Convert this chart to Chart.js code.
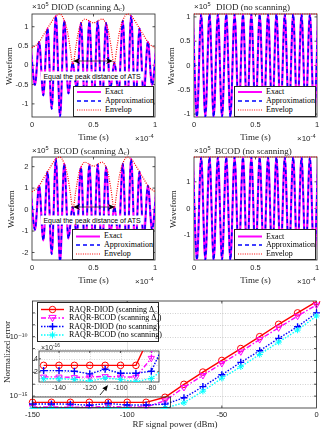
<!DOCTYPE html>
<html><head><meta charset="utf-8">
<script src="https://cdn.jsdelivr.net/npm/chart.js@4.4.1/dist/chart.umd.min.js"></script>
<style>
html,body{margin:0;padding:0;background:#fff}
body{position:relative;width:324px;height:431px;overflow:hidden;-webkit-font-smoothing:antialiased}
canvas{position:absolute;left:0;top:0}
.t{position:absolute;white-space:nowrap;color:#262626;line-height:1}
.t sup{font-size:70%;vertical-align:0.5em;line-height:0}
.t sub{font-size:70%;vertical-align:-0.3em;line-height:0}
.leg{position:absolute;background:#fff;border:0.8px solid #262626;box-sizing:border-box}
.leg .t{font-family:"Liberation Serif","DejaVu Serif",serif;font-size:8px;color:#000}
svg.ov{position:absolute;left:0;top:0;overflow:visible}
</style></head>
<body>
<canvas id="c1" width="324" height="431"></canvas>
<canvas id="c2" width="324" height="431"></canvas>
<canvas id="c3" width="324" height="431"></canvas>
<canvas id="c4" width="324" height="431"></canvas>
<canvas id="c5" width="324" height="431"></canvas>
<canvas id="c6" width="324" height="431"></canvas>
<script>
// ================= DATA =================
// time of each carrier extremum (units of 1e-4 s)
const tPeaks = [-0.010, 0.024, 0.058, 0.092, 0.126, 0.160, 0.194, 0.228, 0.262, 0.296, 0.330, 0.364, 0.398, 0.432, 0.466, 0.500, 0.534, 0.568, 0.602, 0.636, 0.670, 0.704, 0.738, 0.772, 0.806, 0.840, 0.874, 0.908, 0.942, 0.976, 1.010];
// envelope sample times
const tEnv = [0, 0.05, 0.10, 0.15, 0.19, 0.225, 0.26, 0.29, 0.31, 0.333, 0.355, 0.38, 0.405, 0.43, 0.475, 0.50, 0.525, 0.57, 0.595, 0.62, 0.645, 0.667, 0.69, 0.71, 0.74, 0.775, 0.81, 0.85, 0.90, 0.95, 1.0];
const tEnvFlat = [0, 1];

// DIOD (scanning) waveform, x1e5
const diodScanExact = [0.45, -0.51, 0.61, -0.78, 0.96, -1.13, 1.28, -1.33, 1.16, -0.73, 0.07, -0.62, 1.10, -1.20, 1.14, -1.10, 1.14, -1.20, 1.10, -0.62, 0.07, -0.73, 1.16, -1.33, 1.28, -1.13, 0.96, -0.78, 0.61, -0.51, 0.45];
const diodScanApprox = [0.45, -0.51, 0.61, -0.78, 0.96, -1.13, 1.28, -1.33, 1.16, -0.73, 0.07, -0.62, 1.10, -1.20, 1.14, -1.10, 1.14, -1.20, 1.10, -0.62, 0.07, -0.73, 1.16, -1.33, 1.28, -1.13, 0.96, -0.78, 0.61, -0.51, 0.45];
const diodScanEnv = [0.45, 0.57, 0.82, 1.08, 1.27, 1.33, 1.18, 0.85, 0.45, 0.02, 0.45, 0.90, 1.12, 1.20, 1.13, 1.10, 1.13, 1.20, 1.12, 0.90, 0.45, 0.02, 0.45, 0.85, 1.18, 1.33, 1.27, 1.08, 0.82, 0.57, 0.45];

// DIOD (no scanning)
const diodNoExact = [1.06, -1.06, 1.06, -1.06, 1.06, -1.06, 1.06, -1.06, 1.06, -1.06, 1.06, -1.06, 1.06, -1.06, 1.06, -1.06, 1.06, -1.06, 1.06, -1.06, 1.06, -1.06, 1.06, -1.06, 1.06, -1.06, 1.06, -1.06, 1.06, -1.06, 1.06];
const diodNoApprox = [1.06, -1.06, 1.06, -1.06, 1.06, -1.06, 1.06, -1.06, 1.06, -1.06, 1.06, -1.06, 1.06, -1.06, 1.06, -1.06, 1.06, -1.06, 1.06, -1.06, 1.06, -1.06, 1.06, -1.06, 1.06, -1.06, 1.06, -1.06, 1.06, -1.06, 1.06];
const diodNoEnv = [1.06, 1.06];

// BCOD (scanning)
const bcodScanExact = [0.83, -0.94, 1.12, -1.44, 1.77, -2.08, 2.36, -2.45, 2.14, -1.35, 0.13, -1.14, 1.98, -2.21, 2.10, -2.02, 2.10, -2.21, 1.98, -1.14, 0.13, -1.35, 2.14, -2.45, 2.36, -2.08, 1.77, -1.44, 1.12, -0.94, 0.83];
const bcodScanApprox = [0.83, -0.94, 1.12, -1.44, 1.77, -2.08, 2.36, -2.45, 2.14, -1.35, 0.13, -1.14, 1.98, -2.21, 2.10, -2.02, 2.10, -2.21, 1.98, -1.14, 0.13, -1.35, 2.14, -2.45, 2.36, -2.08, 1.77, -1.44, 1.12, -0.94, 0.83];
const bcodScanEnv = [0.83, 1.05, 1.51, 1.99, 2.34, 2.45, 2.17, 1.56, 0.83, 0.04, 0.83, 1.66, 2.06, 2.21, 2.08, 2.02, 2.08, 2.21, 2.06, 1.66, 0.83, 0.04, 0.83, 1.56, 2.17, 2.45, 2.34, 1.99, 1.51, 1.05, 0.83];

// BCOD (no scanning)
const bcodNoExact = [1.93, -1.93, 1.93, -1.93, 1.93, -1.93, 1.93, -1.93, 1.93, -1.93, 1.93, -1.93, 1.93, -1.93, 1.93, -1.93, 1.93, -1.93, 1.93, -1.93, 1.93, -1.93, 1.93, -1.93, 1.93, -1.93, 1.93, -1.93, 1.93, -1.93, 1.93];
const bcodNoApprox = [1.93, -1.93, 1.93, -1.93, 1.93, -1.93, 1.93, -1.93, 1.93, -1.93, 1.93, -1.93, 1.93, -1.93, 1.93, -1.93, 1.93, -1.93, 1.93, -1.93, 1.93, -1.93, 1.93, -1.93, 1.93, -1.93, 1.93, -1.93, 1.93, -1.93, 1.93];
const bcodNoEnv = [1.93, 1.93];

// Normalized error vs RF signal power
const powerDbm = [-150, -140, -130, -120, -110, -100, -90, -80, -70, -60, -50, -40, -30, -20, -10, 0];
const errDiodScan = [3.0e-16, 3.0e-16, 3.0e-16, 3.0e-16, 3.0e-16, 3.0e-16, 3.0e-16, 8.0e-16, 9.8e-15, 1.05e-13, 1.0e-12, 1.0e-11, 1.0e-10, 1.1e-9, 1.0e-8, 8.7e-8];
const errBcodScan = [1.23e-16, 1.23e-16, 1.15e-16, 1.23e-16, 1.30e-16, 1.23e-16, 1.20e-16, 4.1e-16, 5.4e-15, 5.5e-14, 5.6e-13, 5.4e-12, 5.8e-11, 5.6e-10, 5.4e-9, 4.7e-8];
const errDiodNo = [2.2e-16, 2.2e-16, 2.1e-16, 1.7e-16, 2.4e-16, 1.8e-16, 1.8e-16, 2.1e-16, 7.2e-16, 6.3e-15, 6.3e-14, 6.9e-13, 6.6e-12, 7.2e-11, 6.9e-10, 1.0e-8];
const errBcodNo = [0.95e-16, 0.95e-16, 0.85e-16, 0.6e-16, 1.05e-16, 0.85e-16, 0.5e-16, 1.0e-16, 2.75e-16, 2.6e-15, 3.2e-14, 2.95e-13, 3.2e-12, 3.5e-11, 3.6e-10, 5.5e-9];

// Tick values
const timeTicks = [0, 0.5, 1];
const diodYTicks = [-1, -0.5, 0, 0.5, 1];
const bcodScanYTicks = [-2, -1, 0, 1, 2];
const bcodNoYTicks = [-1, 0, 1];
const powerTicks = [-150, -100, -50, 0];
const errTicks = [1e-16, 1e-15, 1e-14, 1e-13, 1e-12, 1e-11, 1e-10, 1e-9, 1e-8, 1e-7];
const errLabelExps = [-15, -10];
const insetXTicks = [-140, -120, -100, -80];
const insetYTicks = [2e-16, 4e-16];

// ================= DRAWING =================
const W = 324, H = 431;
const SANS = '"Liberation Sans", "DejaVu Sans", sans-serif';
const SERIF = '"Liberation Serif", "DejaVu Serif", serif';
const AX = '#262626';
const TICKFONT = {family: SANS, size: 7.5};

function zeroPad(s){ s.paddingLeft = 0; s.paddingRight = 0; s.paddingTop = 0; s.paddingBottom = 0; }
function pts(xs, ys){ return xs.map((x, i) => ({x: x, y: ys[i]})); }

function framePlugin(cfg){
  return {
    id: 'frame',
    beforeDatasetsDraw(chart){
      const ctx = chart.ctx, a = chart.chartArea, sx = chart.scales.x, sy = chart.scales.y;
      ctx.save();
      if (cfg.fill){ ctx.fillStyle = cfg.fill; ctx.fillRect(a.left, a.top, a.right - a.left, a.bottom - a.top); }
      if (cfg.gridX){
        ctx.strokeStyle = cfg.gridXColor; ctx.lineWidth = cfg.gridXWidth; ctx.setLineDash(cfg.gridXDash || []);
        ctx.beginPath();
        cfg.gridX.forEach(v => { const p = Math.round(sx.getPixelForValue(v)) + 0.5; ctx.moveTo(p, a.top); ctx.lineTo(p, a.bottom); });
        ctx.stroke();
      }
      if (cfg.gridY){
        ctx.strokeStyle = cfg.gridYColor; ctx.lineWidth = cfg.gridYWidth; ctx.setLineDash(cfg.gridYDash || []);
        ctx.beginPath();
        cfg.gridY.forEach(v => { const p = Math.round(sy.getPixelForValue(v)) + 0.5; ctx.moveTo(a.left, p); ctx.lineTo(a.right, p); });
        ctx.stroke();
      }
      ctx.setLineDash([]);
      ctx.strokeStyle = AX; ctx.lineWidth = cfg.box || 0.8;
      ctx.strokeRect(a.left, a.top, a.right - a.left, a.bottom - a.top);
      const L = cfg.tick || 3;
      ctx.beginPath();
      sx.ticks.forEach(t => { const p = sx.getPixelForValue(t.value); if (p < a.left + 0.5 || p > a.right - 0.5) return;
        ctx.moveTo(p, a.bottom); ctx.lineTo(p, a.bottom - L); ctx.moveTo(p, a.top); ctx.lineTo(p, a.top + L); });
      sy.ticks.forEach(t => { const p = sy.getPixelForValue(t.value); if (p < a.top + 0.5 || p > a.bottom - 0.5) return;
        ctx.moveTo(a.left, p); ctx.lineTo(a.left + L, p); ctx.moveTo(a.right, p); ctx.lineTo(a.right - L, p); });
      ctx.stroke();
      ctx.restore();
    }
  };
}

function linScale(min, max, ticks, size, fmt, pad, font){
  return {
    type: 'linear', min: min, max: max,
    grid: {display: false, drawTicks: false}, border: {display: false},
    ticks: {font: font || TICKFONT, color: AX, padding: pad, autoSkip: false, maxRotation: 0, minRotation: 0, callback: fmt},
    afterBuildTicks: s => { s.ticks = ticks.map(v => ({value: v})); },
    afterFit: s => { if (s.isHorizontal()) s.height = size; else s.width = size; zeroPad(s); }
  };
}

function wavePanel(id, area, yMin, yMax, yTicks, exact, approx, tE, env){
  const XH = 14, YW = 30;
  new Chart(document.getElementById(id), {
    type: 'line',
    data: {datasets: [
      {data: pts(tE, env), borderColor: '#ff0000', borderWidth: 1.2, borderDash: [1, 1.3], pointRadius: 0, cubicInterpolationMode: 'monotone', clip: 3},
      {data: pts(tPeaks, approx), borderColor: '#0000ff', borderWidth: 1.6, borderDash: [4, 3], pointRadius: 0, cubicInterpolationMode: 'monotone', clip: 0},
      {data: pts(tPeaks, exact), borderColor: '#ff00ff', borderWidth: 2.2, pointRadius: 0, cubicInterpolationMode: 'monotone', clip: 0}
    ]},
    options: {
      responsive: false, animation: false, events: [],
      layout: {padding: {left: area.l - YW, top: area.t, right: W - area.r, bottom: H - area.b - XH}},
      elements: {line: {capBezierPoints: false}},
      plugins: {legend: {display: false}, tooltip: {enabled: false}},
      scales: {
        x: linScale(0, 1, timeTicks, XH, v => String(v), 3),
        y: linScale(yMin, yMax, yTicks, YW, v => String(v), 3.5)
      }
    },
    plugins: [framePlugin({tick: 2.5})]
  });
}

wavePanel('c1', {l: 32, r: 155, t: 14, b: 117}, -1.34, 1.33, diodYTicks, diodScanExact, diodScanApprox, tEnv, diodScanEnv);
wavePanel('c2', {l: 194, r: 317, t: 14, b: 117}, -1.06, 1.06, diodYTicks, diodNoExact, diodNoApprox, tEnvFlat, diodNoEnv);
wavePanel('c3', {l: 32, r: 155, t: 157, b: 260}, -2.35, 2.45, bcodScanYTicks, bcodScanExact, bcodScanApprox, tEnv, bcodScanEnv);
wavePanel('c4', {l: 194, r: 317, t: 157, b: 260}, -1.93, 1.93, bcodNoYTicks, bcodNoExact, bcodNoApprox, tEnvFlat, bcodNoEnv);

// ---- Normalized error plot ----
const SUP = {'-': '\u207B', '0': '\u2070', '1': '\u00B9', '2': '\u00B2', '3': '\u00B3', '4': '\u2074', '5': '\u2075', '6': '\u2076', '7': '\u2077', '8': '\u2078', '9': '\u2079'};
function supNum(n){ return String(n).split('').map(c => SUP[c]).join(''); }

const seriesStyle = [
  {data: errBcodNo, color: '#00ffff', dash: [1.5, 1.5], style: 'star', rot: 0, r: 3.2, pw: 1},
  {data: errDiodNo, color: '#0000ff', dash: [1.5, 1.5], style: 'cross', rot: 0, r: 3.5, pw: 1.4},
  {data: errBcodScan, color: '#ff00ff', dash: [5, 2, 1.5, 2], style: 'triangle', rot: 180, r: 3.6, pw: 1},
  {data: errDiodScan, color: '#ff0000', dash: [], style: 'circle', rot: 0, r: 3.3, pw: 1}
];
function errDatasets(clip){
  return seriesStyle.map(s => ({
    data: pts(powerDbm, s.data), borderColor: s.color, borderWidth: 1.4, borderDash: s.dash,
    pointStyle: s.style, rotation: s.rot, pointRadius: s.r, pointBorderWidth: s.pw,
    pointBorderColor: s.color, pointBackgroundColor: 'rgba(0,0,0,0)', clip: clip
  }));
}

const MA = {l: 32.5, r: 316.5, t: 301, b: 408};
new Chart(document.getElementById('c5'), {
  type: 'line',
  data: {datasets: errDatasets({left: 6, right: 6, top: 0, bottom: 1})},
  options: {
    responsive: false, animation: false, events: [],
    layout: {padding: {left: MA.l - 32, top: MA.t, right: W - MA.r, bottom: H - MA.b - 12}},
    plugins: {legend: {display: false}, tooltip: {enabled: false}},
    scales: {
      x: linScale(-150, 0, powerTicks, 12, v => String(v), 2),
      y: {
        type: 'logarithmic', min: 1e-16, max: 1e-7,
        grid: {display: false, drawTicks: false}, border: {display: false},
        ticks: {font: TICKFONT, color: AX, padding: 5, autoSkip: false,
          callback: v => { const e = Math.round(Math.log10(v)); return errLabelExps.includes(e) ? '10' + supNum(e) : ''; }},
        afterBuildTicks: s => { s.ticks = errTicks.map(v => ({value: v})); },
        afterFit: s => { s.width = 32; zeroPad(s); }
      }
    }
  },
  plugins: [framePlugin({tick: 2.5,
    gridX: [-100, -50], gridXColor: 'rgba(0,0,0,0.13)', gridXWidth: 0.7,
    gridY: [1e-15, 1e-14, 1e-13, 1e-12, 1e-11, 1e-10, 1e-9, 1e-8], gridYColor: 'rgba(0,0,0,0.3)', gridYWidth: 0.6, gridYDash: [1, 1.5]})]
});

// ---- Inset ----
const IA = {l: 39, r: 159, t: 351, b: 382};
const INSETFONT = {family: SANS, size: 7};
new Chart(document.getElementById('c6'), {
  type: 'line',
  data: {datasets: errDatasets({left: 0, right: 0, top: 0, bottom: 0})},
  options: {
    responsive: false, animation: false, events: [],
    layout: {padding: {left: IA.l - 10, top: IA.t, right: W - IA.r, bottom: H - IA.b - 11}},
    plugins: {legend: {display: false}, tooltip: {enabled: false}},
    scales: {
      x: linScale(-153, -75, insetXTicks, 11, v => String(v), 2, INSETFONT),
      y: linScale(0.45e-16, 5.2e-16, insetYTicks, 10, v => String(Math.round(v / 1e-16)), 1, INSETFONT)
    }
  },
  plugins: [framePlugin({tick: 2, fill: '#ffffff',
    gridX: insetXTicks, gridXColor: 'rgba(0,0,0,0.25)', gridXWidth: 0.6, gridXDash: [1, 1.5],
    gridY: [1e-16, 2e-16, 3e-16, 4e-16, 5e-16], gridYColor: 'rgba(0,0,0,0.25)', gridYWidth: 0.6, gridYDash: [1, 1.5]})]
});

// ================= TEXT / ANNOTATIONS =================
function label(html, x, y, o){
  o = o || {};
  const d = document.createElement('div');
  d.className = 't'; d.innerHTML = html;
  d.style.fontFamily = o.font || SERIF; d.style.fontSize = (o.size || 9) + 'px';
  d.style.left = x + 'px'; d.style.top = y + 'px';
  if (o.color) d.style.color = o.color;
  if (o.bg){ d.style.background = o.bg; d.style.padding = o.pad || '1px 2px'; }
  const tx = o.ax === 'l' ? '0' : o.ax === 'r' ? '-100%' : '-50%';
  d.style.transform = 'translate(' + tx + ',-50%)' + (o.rot ? ' rotate(' + o.rot + 'deg)' : '');
  document.body.appendChild(d);
  return d;
}
// titles and exponents
const exp5 = '\u00D710<sup>5</sup>';
label(exp5, 32, 7, {font: SANS, size: 8, ax: 'l'});
label('DIOD (scanning \u0394<sub>c</sub>)', 88, 7, {size: 9});
label(exp5, 194, 7, {font: SANS, size: 8, ax: 'l'});
label('DIOD (no scanning)', 253, 7, {size: 9});
label(exp5, 32, 151, {font: SANS, size: 8, ax: 'l'});
label('BCOD (scanning \u0394<sub>c</sub>)', 91.5, 151, {size: 9});
label(exp5, 194, 151, {font: SANS, size: 8, ax: 'l'});
label('BCOD (no scanning)', 253.5, 151, {size: 9});
// axis labels
label('Waveform', 8.5, 65.5, {size: 9, rot: -90});
label('Waveform', 170.5, 65.5, {size: 9, rot: -90});
label('Waveform', 11, 208.5, {size: 9, rot: -90});
label('Waveform', 173, 208.5, {size: 9, rot: -90});
label('Time (s)', 93.5, 136.5, {size: 9});
label('Time (s)', 255.5, 136.5, {size: 9});
label('Time (s)', 93.5, 279.5, {size: 9});
label('Time (s)', 255.5, 279.5, {size: 9});
const expm4 = '\u00D710<sup>-4</sup>';
label(expm4, 135, 139, {font: SANS, size: 8, ax: 'l'});
label(expm4, 297, 139, {font: SANS, size: 8, ax: 'l'});
label(expm4, 135, 282, {font: SANS, size: 8, ax: 'l'});
label(expm4, 297, 282, {font: SANS, size: 8, ax: 'l'});
// annotations
label('Equal the peak distance of ATS', 92, 76, {font: SANS, size: 7, bg: '#fff', pad: '1px 3px', color: '#000'});
label('Equal the peak distance of ATS', 92, 220, {font: SANS, size: 7, bg: '#fff', pad: '1px 3px', color: '#000'});
// bottom plot labels
label('Normalized error', 7, 352, {size: 9, rot: -90});
label('RF signal power (dBm)', 175, 424, {size: 9});
label('\u00D710<sup>-16</sup>', 41, 347, {font: SANS, size: 7, ax: 'l'});

// legends
function legend(x, y, w, h, rows){
  const d = document.createElement('div');
  d.className = 'leg';
  d.style.left = x + 'px'; d.style.top = y + 'px'; d.style.width = w + 'px'; d.style.height = h + 'px';
  let svg = '<svg width="' + w + '" height="' + h + '" style="position:absolute;left:0;top:0">';
  let txt = '';
  rows.forEach(r => {
    svg += '<line x1="' + r.x1 + '" y1="' + r.y + '" x2="' + r.x2 + '" y2="' + r.y + '" stroke="' + r.c + '" stroke-width="' + r.w + '"' + (r.dash ? ' stroke-dasharray="' + r.dash + '"' : '') + '/>';
    const cx = (r.x1 + r.x2) / 2, cy = r.y;
    if (r.m === 'o') svg += '<circle cx="' + cx + '" cy="' + cy + '" r="3.2" fill="none" stroke="' + r.c + '" stroke-width="1"/>';
    if (r.m === 'v') svg += '<polygon points="' + (cx - 3.6) + ',' + (cy - 2.6) + ' ' + (cx + 3.6) + ',' + (cy - 2.6) + ' ' + cx + ',' + (cy + 3.6) + '" fill="none" stroke="' + r.c + '" stroke-width="1"/>';
    if (r.m === '+' || r.m === '*') svg += '<path d="M' + (cx - 3.5) + ' ' + cy + 'H' + (cx + 3.5) + 'M' + cx + ' ' + (cy - 3.5) + 'V' + (cy + 3.5) + '" stroke="' + r.c + '" stroke-width="' + (r.m === '+' ? 1.4 : 1) + '"/>';
    if (r.m === '*') svg += '<path d="M' + (cx - 2.5) + ' ' + (cy - 2.5) + 'L' + (cx + 2.5) + ' ' + (cy + 2.5) + 'M' + (cx - 2.5) + ' ' + (cy + 2.5) + 'L' + (cx + 2.5) + ' ' + (cy - 2.5) + '" stroke="' + r.c + '" stroke-width="1"/>';
    txt += '<div class="t" style="left:' + r.tx + 'px;top:' + r.y + 'px;transform:translateY(-50%)">' + r.label + '</div>';
  });
  svg += '</svg>';
  d.innerHTML = svg + txt;
  document.body.appendChild(d);
}
function waveLegend(x, y, w, h, ys){
  legend(x, y, w, h, [
    {y: ys[0], x1: 3, x2: 27, c: '#ff00ff', w: 2, tx: 31, label: 'Exact'},
    {y: ys[1], x1: 3, x2: 27, c: '#0000ff', w: 1.6, dash: '4 3', tx: 31, label: 'Approximation'},
    {y: ys[2], x1: 3, x2: 27, c: '#ff0000', w: 1.2, dash: '1 1.3', tx: 31, label: 'Envelop'}
  ]);
}
waveLegend(73, 86, 81, 31, [5, 14, 23]);
waveLegend(234, 86, 82, 31, [5, 14, 23]);
waveLegend(72, 228.5, 82, 31.5, [6.5, 15, 24]);
waveLegend(234, 229, 82, 31, [6.5, 15, 24]);
legend(37, 302, 122, 40, [
  {y: 6.5, x1: 3, x2: 26, c: '#ff0000', w: 1.4, m: 'o', tx: 31, label: 'RAQR-DIOD (scanning \u0394<sub>c</sub>)'},
  {y: 15, x1: 3, x2: 26, c: '#ff00ff', w: 1.4, dash: '5 2 1.5 2', m: 'v', tx: 31, label: 'RAQR-BCOD (scanning \u0394<sub>c</sub>)'},
  {y: 23.5, x1: 3, x2: 26, c: '#0000ff', w: 1.4, dash: '1.5 1.5', m: '+', tx: 31, label: 'RAQR-DIOD (no scanning)'},
  {y: 32, x1: 3, x2: 26, c: '#00ffff', w: 1.4, dash: '1.5 1.5', m: '*', tx: 31, label: 'RAQR-BCOD (no scanning)'}
]);

// arrows, zoom rectangle
const ov = document.createElementNS('http://www.w3.org/2000/svg', 'svg');
ov.setAttribute('class', 'ov'); ov.setAttribute('width', W); ov.setAttribute('height', H);
function dblArrow(x1, x2, y){
  return '<line x1="' + (x1 + 5) + '" y1="' + y + '" x2="' + (x2 - 5) + '" y2="' + y + '" stroke="#333" stroke-width="0.8"/>' +
    '<polygon points="' + x1 + ',' + y + ' ' + (x1 + 7) + ',' + (y - 3) + ' ' + (x1 + 5) + ',' + y + ' ' + (x1 + 7) + ',' + (y + 3) + '" fill="#000"/>' +
    '<polygon points="' + x2 + ',' + y + ' ' + (x2 - 7) + ',' + (y - 3) + ' ' + (x2 - 5) + ',' + y + ' ' + (x2 - 7) + ',' + (y + 3) + '" fill="#000"/>';
}
ov.innerHTML = dblArrow(73, 113, 61) + dblArrow(73, 115, 207) +
  '<rect x="32.5" y="397" width="138" height="10.5" fill="none" stroke="#262626" stroke-width="0.8"/>' +
  '<line x1="100" y1="395" x2="104.5" y2="389.5" stroke="#000" stroke-width="0.8"/>' +
  '<polygon points="108,385 106.3,391.3 104.5,389.5 102.3,388.2" fill="#000"/>';
document.body.appendChild(ov);
</script>
</body></html>
